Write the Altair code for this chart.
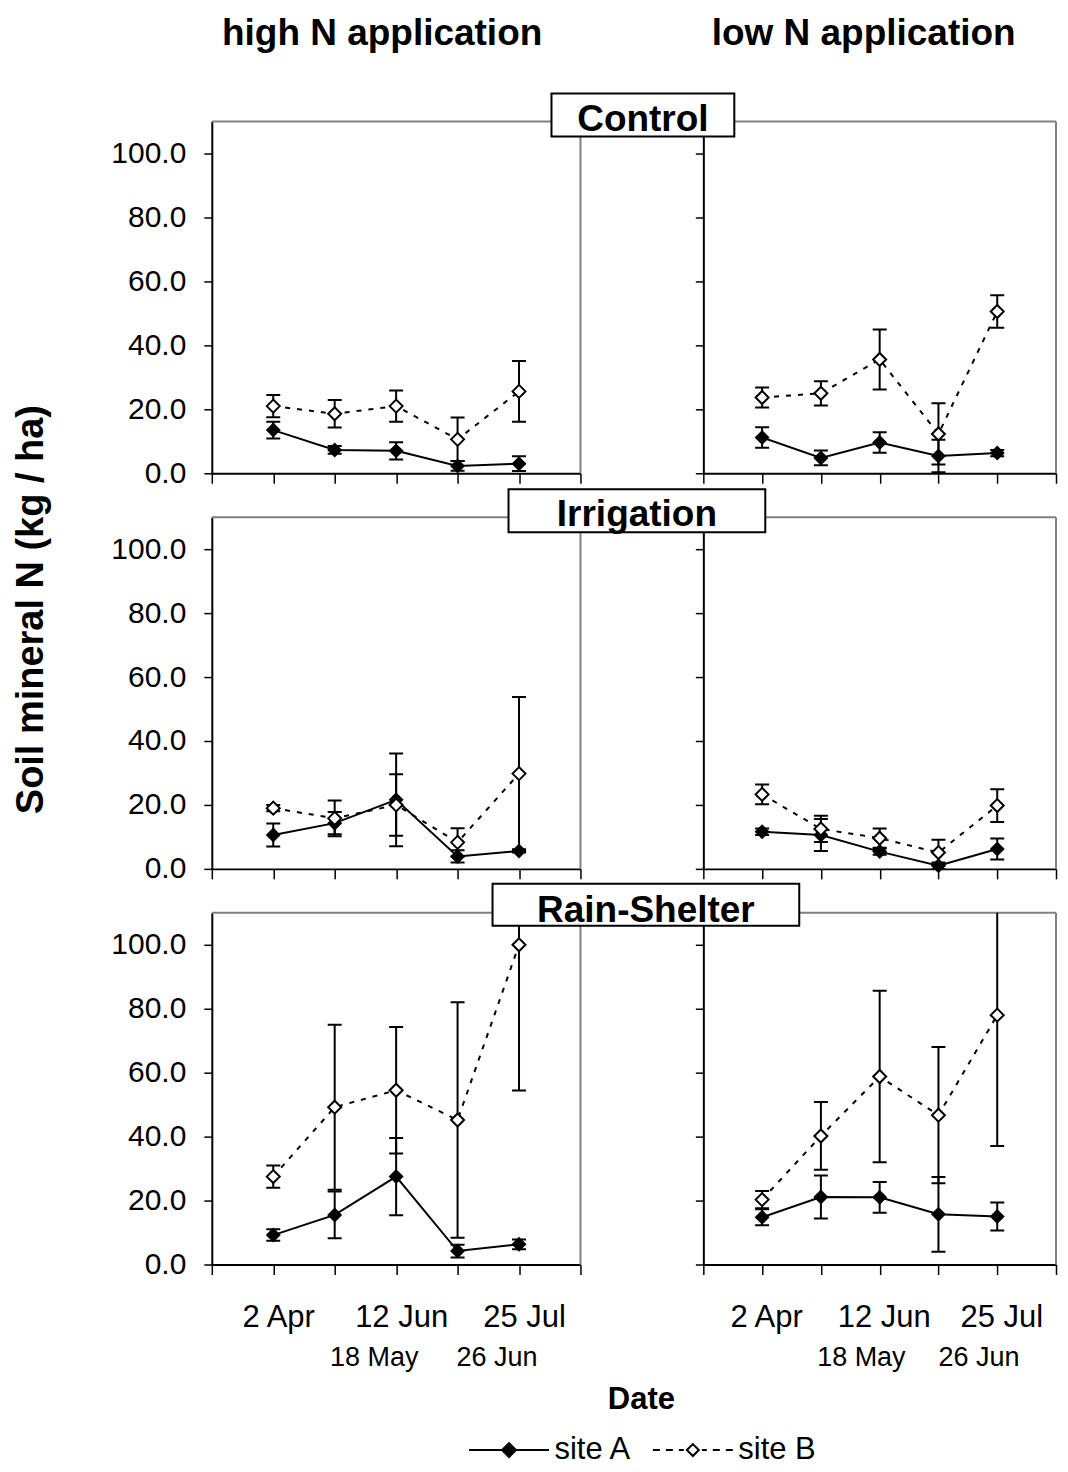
import json
import altair as alt
import pandas as pd

# ---------------- data ----------------
dates = ["2 Apr", "18 May", "12 Jun", "26 Jun", "25 Jul"]
date_pos = [1, 2, 3, 4, 5]
treatments = ["Control", "Irrigation", "Rain-Shelter"]
levels = ["high N application", "low N application"]
sites = ["site A", "site B"]

ctrl_high_A = [13.5, 7.3, 7.0, 2.3, 3.0]
ctrl_high_A_err = [2.6, 1.2, 2.7, 1.5, 2.3]
ctrl_high_B = [21.0, 18.6, 21.0, 10.6, 25.6]
ctrl_high_B_err = [3.5, 4.3, 4.9, 6.8, 9.5]

ctrl_low_A = [11.2, 4.8, 9.6, 5.4, 6.3]
ctrl_low_A_err = [3.2, 2.3, 3.2, 5.1, 1.0]
ctrl_low_B = [23.7, 25.0, 35.6, 12.3, 50.6]
ctrl_low_B_err = [3.1, 3.8, 9.4, 9.6, 5.1]

irr_high_A = [10.6, 14.3, 21.6, 3.9, 5.6]
irr_high_A_err = [3.6, 3.5, 14.5, 1.9, 0.5]
irr_high_B = [19.0, 15.8, 20.0, 8.3, 29.8]
irr_high_B_err = [1.0, 5.6, 9.6, 4.4, 24.0]

irr_low_A = [11.6, 10.6, 5.4, 1.0, 6.2]
irr_low_A_err = [1.0, 5.0, 1.0, 1.0, 3.3]
irr_low_B = [23.3, 12.5, 9.6, 5.1, 19.8]
irr_low_B_err = [3.1, 4.1, 3.0, 4.0, 5.1]

rain_high_A = [9.2, 15.5, 27.5, 4.2, 6.3]
rain_high_A_err = [1.8, 7.3, 12.1, 2.0, 1.5]
rain_high_B = [27.5, 49.2, 54.5, 45.2, 100.0]
rain_high_B_err = [3.5, 25.8, 19.8, 36.8, 45.6]

rain_low_A = [14.8, 21.1, 21.0, 15.7, 15.0]
rain_low_A_err = [2.5, 6.7, 4.8, 11.7, 4.4]
rain_low_B = [20.3, 40.2, 58.8, 46.7, 78.0]
rain_low_B_err = [2.7, 10.6, 26.8, 21.3, 40.9]

series = {
    ("Control", "high N application"): (ctrl_high_A, ctrl_high_A_err, ctrl_high_B, ctrl_high_B_err),
    ("Control", "low N application"): (ctrl_low_A, ctrl_low_A_err, ctrl_low_B, ctrl_low_B_err),
    ("Irrigation", "high N application"): (irr_high_A, irr_high_A_err, irr_high_B, irr_high_B_err),
    ("Irrigation", "low N application"): (irr_low_A, irr_low_A_err, irr_low_B, irr_low_B_err),
    ("Rain-Shelter", "high N application"): (rain_high_A, rain_high_A_err, rain_high_B, rain_high_B_err),
    ("Rain-Shelter", "low N application"): (rain_low_A, rain_low_A_err, rain_low_B, rain_low_B_err),
}

rows = []
for (treat, lev), (a, ae, b, be) in series.items():
    for site, vals, errs in ((sites[0], a, ae), (sites[1], b, be)):
        for p, d, v, e in zip(date_pos, dates, vals, errs):
            rows.append(dict(treatment=treat, level=lev, site=site, pos=p, date=d,
                             value=v, lo=v - e, hi=v + e))
df = pd.DataFrame(rows)
one = pd.DataFrame({"k": [0]})
legend_df = pd.DataFrame({"site": sites})

# ---------------- styling ----------------
FONT = "Liberation Sans"
GRAY = "#808080"
W_LEFT, W_RIGHT, H = 369, 353, 352

label_list = json.dumps([""] + dates + [""])
second_line = "datum.value == 2 || datum.value == 4"

boxes = {  # (x1, x2, y1, y2, text_x) relative to right-panel plot origin
    "Control": (-152, 31, -28, 15, -60.5),
    "Irrigation": (-195, 62, -28, 15, -66.5),
    "Rain-Shelter": (-211, 96, -29, 13, -57.5),
}

pathA = "M-4,0L4,0M-0.7,0L0,-0.7L0.7,0L0,0.7Z"
pathB = ("M-4,0L-3.3,0M-2.7,0L-2,0M-1.4,0L-0.9,0M0.9,0L1.4,0M2,0L2.7,0M3.3,0L4,0"
         "M-0.6,0L0,-0.6L0.6,0L0,0.6Z")


def panel(treat, lev, r, c):
    d = df[(df.treatment == treat) & (df.level == lev)]
    base = alt.Chart(d)
    bottom = r == 2
    if bottom:
        xaxis = alt.Axis(values=[0, 1, 2, 3, 4, 5, 6], tickSize=10, tickWidth=1.5, tickColor="black",
                         domainColor="black", domainWidth=2, grid=False, title=None,
                         labelExpr=f"{label_list}[datum.value]", labelFont=FONT, labelColor="black",
                         labelBaseline="top", labelOverlap=False, labelFlush=False, labelBound=False,
                         labelFontSize={"condition": {"test": second_line, "value": 27}, "value": 31},
                         labelPadding={"condition": {"test": second_line, "value": 70}, "value": 28},
                         labelOffset={"condition": {"test": second_line, "value": 39 if c == 0 else 40},
                                      "value": 5 if c == 0 else 4})
    else:
        xaxis = alt.Axis(values=[0, 1, 2, 3, 4, 5, 6], tickSize=10, tickWidth=1.5, tickColor="black",
                         domainColor="black", domainWidth=2, grid=False, title=None, labels=False)
    ykw = dict(values=[0, 20, 40, 60, 80, 100], tickSize=8, tickWidth=1.5, tickColor="black",
               domainColor="black", domainWidth=2, grid=False)
    if c == 0:
        ykw.update(format=".1f", labelFontSize=30, labelFont=FONT, labelColor="black", labelPadding=18)
    else:
        ykw.update(labels=False)
    if c == 0 and r == 1:
        ykw.update(title="Soil mineral N (kg / ha)", titleFontSize=38, titleFont=FONT,
                   titleFontWeight="bold", titleColor="black", titleX=-169, titleY=92,
                   titleAngle=270, titleAlign="center", titleBaseline="alphabetic")
    else:
        ykw.update(title=None)
    yaxis = alt.Axis(**ykw)
    xs = alt.Scale(domain=[0, 6], nice=False, zero=False)
    ys = alt.Scale(domain=[0, 110], nice=False, zero=False)
    X = alt.X("pos:Q", scale=xs, axis=xaxis)

    def Y(f):
        return alt.Y(f"{f}:Q", scale=ys, axis=yaxis)

    layers = [
        alt.Chart(one).mark_rule(color=GRAY, strokeWidth=2).encode(
            x=alt.value(0), x2=alt.value("width"), y=alt.value(0)),
        alt.Chart(one).mark_rule(color=GRAY, strokeWidth=2).encode(
            x=alt.value("width"), y=alt.value(0), y2=alt.value("height")),
        base.mark_rule(color="black", strokeWidth=2, clip=True).encode(x=X, y=Y("lo"), y2="hi:Q"),
        base.mark_tick(orient="horizontal", size=14, thickness=2, color="black", opacity=1,
                       clip=True).encode(x=X, y=Y("lo")),
        base.mark_tick(orient="horizontal", size=14, thickness=2, color="black", opacity=1,
                       clip=True).encode(x=X, y=Y("hi")),
        base.transform_filter(alt.datum.site == sites[0]).mark_line(
            color="black", strokeWidth=2).encode(x=X, y=Y("value")),
        base.transform_filter(alt.datum.site == sites[1]).mark_line(
            color="black", strokeWidth=2, strokeDash=[5, 7]).encode(x=X, y=Y("value")),
        base.transform_filter(alt.datum.site == sites[0]).mark_point(
            shape="diamond", filled=True, color="black", size=225, opacity=1).encode(x=X, y=Y("value")),
        base.transform_filter(alt.datum.site == sites[1]).mark_point(
            shape="diamond", filled=True, fill="white", stroke="black", strokeWidth=2,
            size=169, opacity=1).encode(x=X, y=Y("value")),
    ]
    if c == 1:
        x1, x2, y1, y2, tx = boxes[treat]
        layers.append(alt.Chart(one).mark_rect(fill="white", stroke="black", strokeWidth=2).encode(
            x=alt.value(x1), x2=alt.value(x2), y=alt.value(y1), y2=alt.value(y2)))
        layers.append(alt.Chart(one).mark_text(
            text=treat, font=FONT, fontSize=37, fontWeight="bold", color="black",
            align="center", baseline="alphabetic").encode(x=alt.value(tx), y=alt.value(9)))
    if r == 2 and c == 0:
        leg = alt.Legend(title="Date", orient="none", legendX=255, legendY=473, direction="horizontal",
                         titleFontSize=31, titleFontWeight="bold", titleFont=FONT, titleColor="black",
                         titleAnchor="middle", titleAlign="center", titlePadding=18,
                         labelFontSize=31, labelFont=FONT, labelColor="black",
                         symbolSize=400, symbolOffset=27, labelOffset=30, columnPadding=16,
                         padding=0, symbolStrokeWidth=2, symbolStrokeColor="black")
        layers.append(alt.Chart(legend_df).transform_filter("false").mark_point(
            strokeWidth=2, filled=False, opacity=1).encode(
            shape=alt.Shape("site:N", scale=alt.Scale(domain=sites, range=[pathA, pathB]), legend=leg),
            fill=alt.Fill("site:N", scale=alt.Scale(domain=sites, range=["black", "white"]), legend=leg),
            stroke=alt.Stroke("site:N", scale=alt.Scale(domain=sites, range=["black", "black"]),
                              legend=leg)))
    props = dict(width=W_LEFT if c == 0 else W_RIGHT, height=H)
    if r == 0:
        props["title"] = alt.TitleParams(
            text=lev, fontSize=37, fontWeight="bold", font=FONT, color="black", anchor="middle",
            frame="group", dx=-14 if c == 0 else -16, offset=38.5 if c == 0 else 10.5,
            baseline="alphabetic", orient="top")
    return alt.layer(*layers).properties(**props)


panels = []
for r, t in enumerate(treatments):
    for c, lv in enumerate(levels):
        panels.append(panel(t, lv, r, c))

chart = alt.concat(*panels, columns=2, spacing={"row": 44, "column": 123}, bounds="flush").resolve_scale(
    shape="independent", fill="independent", stroke="independent").resolve_legend(
    shape="independent", fill="independent", stroke="independent").properties(
    padding={"left": 5, "top": 6, "right": 0, "bottom": 0}).configure(font=FONT).configure_view(
    strokeWidth=0)

chart.save("out.html", embed_options={"renderer": "svg", "actions": False})
